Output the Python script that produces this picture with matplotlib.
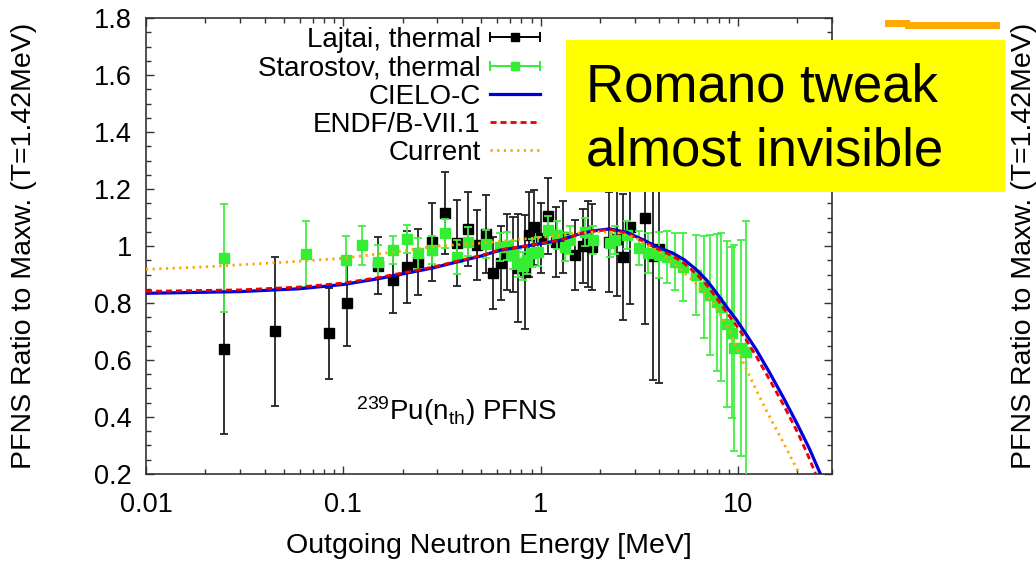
import numpy as np
import matplotlib
matplotlib.use("Agg")
import matplotlib.pyplot as plt
from matplotlib.lines import Line2D
from matplotlib.patches import Rectangle
from matplotlib.legend_handler import HandlerBase
from matplotlib.ticker import FixedLocator, MultipleLocator, FuncFormatter, NullFormatter

plt.rcParams['font.family'] = ['Liberation Sans', 'DejaVu Sans']
plt.rcParams['mathtext.default'] = 'regular'

# Lajtai, thermal (E [MeV], ratio, error)
lajtai_e = [0.025, 0.045, 0.085, 0.104, 0.150, 0.178, 0.210, 0.239, 0.281, 0.327,
            0.376, 0.428, 0.475, 0.528, 0.573, 0.629, 0.674, 0.723, 0.766, 0.832,
            0.871, 0.924, 1.00, 1.09, 1.20, 1.30, 1.49, 1.64, 1.73, 1.82,
            2.21, 2.43, 2.61, 2.83, 3.37, 3.70, 4.00]
lajtai_r = [0.64, 0.70, 0.694, 0.80, 0.93, 0.88, 0.926, 0.944, 1.014, 1.116,
            1.011, 1.06, 1.003, 1.042, 0.905, 0.94, 0.98, 0.97, 0.923, 0.909,
            1.04, 1.065, 1.028, 1.105, 1.014, 1.032, 0.968, 1.0, 1.007, 0.996,
            1.014, 1.025, 0.961, 1.067, 1.098, 0.965, 0.99]
lajtai_err = [0.30, 0.26, 0.16, 0.15, 0.10, 0.116, 0.126, 0.116, 0.137, 0.144,
              0.151, 0.13, 0.123, 0.137, 0.126, 0.13, 0.133, 0.132, 0.19, 0.20,
              0.149, 0.133, 0.123, 0.133, 0.123, 0.126, 0.123, 0.13, 0.15, 0.15,
              0.175, 0.20, 0.22, 0.27, 0.37, 0.435, 0.47]

# Starostov, thermal
star_e = [0.0249, 0.0646, 0.1035, 0.125, 0.150, 0.178, 0.210, 0.239, 0.281, 0.327,
          0.376, 0.428, 0.528, 0.62, 0.674, 0.723, 0.766, 0.81, 0.85, 0.91,
          0.97, 1.09, 1.21, 1.33, 1.41, 1.68, 1.84, 2.25, 2.39, 2.75,
          3.17, 3.49, 4.0, 4.37, 4.8, 5.26, 6.15, 6.7, 7.2, 7.8,
          8.2, 8.8, 9.3, 9.6, 10.4, 11.0]
star_r = [0.957, 0.972, 0.951, 1.003, 0.945, 0.986, 1.024, 0.974, 0.986, 1.044,
          0.962, 1.015, 1.007, 0.996, 1.0, 0.968, 0.94, 0.93, 0.951, 0.975,
          0.98, 1.056, 1.039, 0.996, 1.021, 1.05, 1.021, 1.01, 1.021, 1.039,
          0.993, 0.975, 0.968, 0.961, 0.944, 0.926, 0.898, 0.856, 0.828, 0.803,
          0.786, 0.726, 0.695, 0.642, 0.642, 0.628]
star_err = [0.19, 0.116, 0.084, 0.068, 0.058, 0.05, 0.05, 0.054, 0.05, 0.05,
            0.06, 0.05, 0.05, 0.05, 0.05, 0.05, 0.05, 0.05, 0.05, 0.05,
            0.05, 0.05, 0.05, 0.05, 0.05, 0.05, 0.05, 0.05, 0.05, 0.05,
            0.06, 0.07, 0.08, 0.09, 0.10, 0.12, 0.14, 0.18, 0.21, 0.24,
            0.26, 0.29, 0.30, 0.36, 0.38, 0.46]

# evaluations
cielo_e = [0.01, 0.03, 0.06, 0.1, 0.15, 0.28, 0.5, 0.62, 0.94, 1.25, 1.58, 1.84,
           2.24, 2.74, 3.3, 4.02, 4.68, 5.37, 6.18, 6.95, 7.8, 8.77, 9.86,
           11.07, 12.42, 14.5, 17.1, 20.1, 23.0, 26.2, 29.0]
cielo_r = [0.834, 0.840, 0.850, 0.865, 0.885, 0.922, 0.965, 0.985, 1.005, 1.02,
           1.043, 1.053, 1.06, 1.048, 1.022, 0.993, 0.975, 0.951, 0.916, 0.88,
           0.835, 0.786, 0.74, 0.688, 0.635, 0.555, 0.465, 0.372, 0.29, 0.2, 0.13]

endf_e = [0.01, 0.03, 0.06, 0.1, 0.15, 0.28, 0.5, 0.62, 0.94, 1.25, 1.58, 1.84,
          2.24, 2.74, 3.3, 4.02, 4.68, 5.37, 6.18, 6.95, 7.8, 8.77, 9.86,
          11.07, 12.42, 14.5, 17.1, 20.1, 22.5, 24.8, 27.5]
endf_r = [0.841, 0.846, 0.856, 0.870, 0.889, 0.925, 0.967, 0.986, 1.006, 1.02,
          1.043, 1.052, 1.058, 1.045, 1.017, 0.986, 0.965, 0.938, 0.901, 0.863,
          0.817, 0.767, 0.72, 0.668, 0.612, 0.53, 0.44, 0.345, 0.27, 0.2, 0.13]

current_e = [0.01, 0.02, 0.05, 0.1, 0.2, 0.3, 0.5, 1.0, 1.5, 2.0, 2.5, 3.0,
             4.0, 5.0, 6.0, 7.5, 9.0, 10.5, 12.0, 14.0, 17.0, 20.0, 22.0]
current_r = [0.918, 0.927, 0.943, 0.957, 0.983, 1.0, 1.01, 1.03, 1.045, 1.05,
             1.045, 1.03, 0.98, 0.925, 0.875, 0.8, 0.71, 0.6, 0.515, 0.42,
             0.31, 0.215, 0.16]


class ErrbarSample(HandlerBase):
    """gnuplot style key sample: horizontal bar with end caps and a point"""
    def create_artists(self, legend, orig, xdescent, ydescent, width, height, fontsize, trans):
        c = orig.get_color()
        y = height / 2 - ydescent
        x0, x1 = -xdescent, width - xdescent
        bar = Line2D([x0, x1], [y, y], color=c, lw=1.4)
        caps = Line2D([x0, x1], [y, y], ls='none', marker='|', ms=7, mew=1.4, color=c)
        pt = Line2D([(x0 + x1) / 2], [y], ls='none', marker='s', ms=6, color=c)
        for a in (bar, caps, pt):
            a.set_transform(trans)
        return [bar, caps, pt]


fig = plt.figure(figsize=(10.36, 5.63), dpi=100)
ax = fig.add_axes([0.1409, 0.1581, 0.6622, 0.8099])

ax.errorbar(lajtai_e, lajtai_r, yerr=lajtai_err, fmt='s', color='black', ecolor='#222222',
            ms=6.5, elinewidth=1.3, capsize=3, capthick=1.3, zorder=2)
ax.errorbar(star_e, star_r, yerr=star_err, fmt='s', color='#33ee33', ecolor='#44ee44',
            ms=6.5, elinewidth=1.3, capsize=3, capthick=1.3, zorder=3)
l_cielo, = ax.plot(cielo_e, cielo_r, color='#0000dd', lw=2.3, zorder=4)
l_endf, = ax.plot(endf_e, endf_r, color='#ee0000', lw=2.0, ls=(0, (2.2, 1.4)), zorder=5)
l_cur, = ax.plot(current_e, current_r, color='#ffa500', lw=2.0, ls=(0, (0.8, 1.6)), zorder=6)

ax.set_xscale('log')
ax.set_xlim(0.01, 30)
ax.set_ylim(0.2, 1.8)

fmt = FuncFormatter(lambda v, p: '%g' % v)
ax.xaxis.set_major_locator(FixedLocator([0.01, 0.1, 1, 10]))
ax.xaxis.set_major_formatter(fmt)
ax.xaxis.set_minor_formatter(NullFormatter())
ax.yaxis.set_major_locator(MultipleLocator(0.2))
ax.yaxis.set_minor_locator(MultipleLocator(0.05))
ax.yaxis.set_major_formatter(fmt)
ax.tick_params(which='both', direction='in', top=True, right=True, width=1.0, color='#333333')
ax.tick_params(which='major', length=6, labelsize=19.5)
ax.tick_params(which='minor', length=3.5)
ax.tick_params(axis='x', pad=13)
ax.tick_params(axis='y', pad=10)
for sp in ax.spines.values():
    sp.set_linewidth(1.2)
    sp.set_color('#333333')

ax.set_xlabel('Outgoing Neutron Energy [MeV]', fontsize=20.5)
ax.xaxis.set_label_coords(0.5, -0.13)
fig.text(24 / 1036, 0.563, 'PFNS Ratio to Maxw. (T=1.42MeV)', rotation=90,
         ha='center', va='center', fontsize=20.5)

ax.text(0.453, 0.118, r'$^{239}$Pu(n$_{th}$) PFNS', transform=ax.transAxes,
        ha='center', va='baseline', fontsize=20)

p_l = Line2D([], [], color='black')
p_s = Line2D([], [], color='#33ee33')
ax.legend([p_l, p_s, l_cielo, l_endf, l_cur],
          ['Lajtai, thermal', 'Starostov, thermal', 'CIELO-C', 'ENDF/B-VII.1', 'Current'],
          handler_map={p_l: ErrbarSample(), p_s: ErrbarSample()},
          loc='upper right', bbox_to_anchor=(0.575, 0.98), frameon=False,
          markerfirst=False, fontsize=20, handlelength=1.8, handletextpad=0.35,
          labelspacing=0.08, borderaxespad=0, borderpad=0)

# slide overlay: note box, neighbouring panel's label and key line
fig.add_artist(Rectangle((566 / 1036, 1 - 192 / 563), 439 / 1036, 152 / 563,
                         transform=fig.transFigure, facecolor='#ffff00', edgecolor='none', zorder=10))
fig.text(586 / 1036, 1 - 102 / 563, 'Romano tweak', fontsize=38,
         ha='left', va='baseline', zorder=11)
fig.text(586 / 1036, 1 - 165 / 563, 'almost invisible', fontsize=38,
         ha='left', va='baseline', zorder=11)
fig.text(1024 / 1036, 0.563, 'PFNS Ratio to Maxw. (T=1.42MeV)', rotation=90,
         ha='center', va='center', fontsize=20.5)
fig.add_artist(Rectangle((885 / 1036, 1 - 27 / 563), 25 / 1036, 7 / 563,
                         transform=fig.transFigure, facecolor='#ffaa00', edgecolor='none'))
fig.add_artist(Rectangle((905 / 1036, 1 - 29 / 563), 95 / 1036, 7 / 563,
                         transform=fig.transFigure, facecolor='#ffaa00', edgecolor='none'))

fig.savefig('out.png', dpi=100)
